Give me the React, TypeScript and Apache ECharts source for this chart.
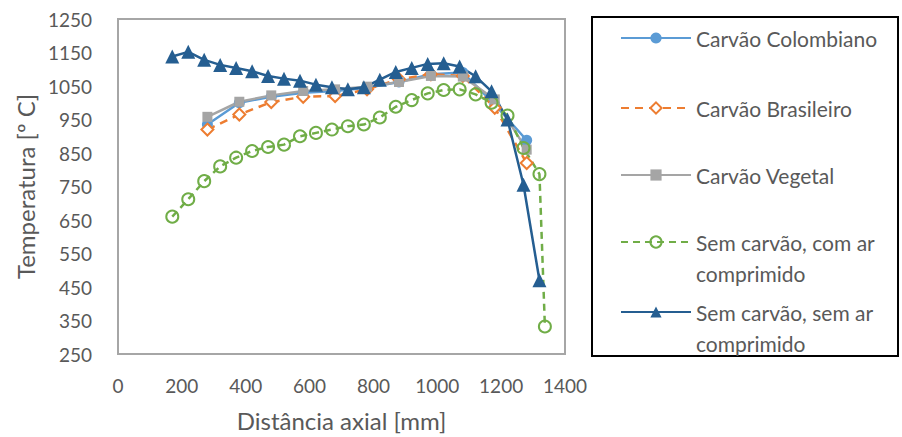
import React, { useEffect, useRef } from "react";
import * as echarts from "echarts";

// ---- Data ----
const xCoal = [280, 380, 480, 580, 680, 780, 880, 980, 1080, 1180, 1280];
const colombiano = [935, 1000, 1018, 1030, 1035, 1045, 1062, 1085, 1090, 995, 888];
const brasileiro = [920, 965, 1002, 1018, 1020, 1040, 1070, 1085, 1080, 985, 820];
const vegetal = [958, 1003, 1022, 1035, 1040, 1048, 1062, 1080, 1078, 1010, 860];

const xComAr = [170, 220, 270, 320, 370, 420, 470, 520, 570, 620, 670, 720, 770, 820, 870, 920, 970, 1020, 1070, 1120, 1170, 1220, 1270, 1320, 1337];
const semCarvaoComAr = [660, 712, 766, 810, 836, 856, 868, 875, 900, 910, 920, 930, 935, 956, 988, 1008, 1028, 1038, 1040, 1025, 1000, 962, 865, 787, 332];

const xSemAr = [170, 220, 270, 320, 370, 420, 470, 520, 570, 620, 670, 720, 770, 820, 870, 920, 970, 1020, 1070, 1120, 1170, 1220, 1270, 1320];
const semCarvaoSemAr = [1138, 1152, 1128, 1113, 1104, 1094, 1080, 1072, 1066, 1054, 1046, 1040, 1046, 1069, 1092, 1104, 1116, 1118, 1108, 1079, 1034, 950, 755, 470];

const seriesNames = [
  "Carvão Colombiano",
  "Carvão Brasileiro",
  "Carvão Vegetal",
  "Sem carvão, com ar comprimido",
  "Sem carvão, sem ar comprimido",
];
const legendLines = [
  ["Carvão Colombiano"],
  ["Carvão Brasileiro"],
  ["Carvão Vegetal"],
  ["Sem carvão, com ar", "comprimido"],
  ["Sem carvão, sem ar", "comprimido"],
];

const xTitle = "Distância axial [mm]";
const yTitle = "Temperatura [º C]";

const zip = (xs: number[], ys: number[]) => xs.map((x, i) => [x, ys[i]]);

const FONT = "Lato";
const TXT = "#595959";

export default function App() {
  const ref = useRef<HTMLDivElement>(null);
  useEffect(() => {
    if (!ref.current) return;
    const chart = echarts.init(ref.current, undefined, { renderer: "svg" });
    const legendCenters = [38, 108, 175, 242, 312];
    const legends = seriesNames.map((name, i) => {
      const twoLine = legendLines[i].length > 1;
      return {
        data: [name],
        left: 620,
        top: twoLine ? legendCenters[i] - 46.5 : legendCenters[i] - 15.5,
        padding: 0,
        itemWidth: 70,
        itemHeight: 14,
        selectedMode: false,
        // a leading blank line keeps the first text line level with the icon
        formatter: () => (twoLine ? " \n" : "") + legendLines[i].join("\n"),
        textStyle: {
          fontFamily: FONT,
          fontSize: 21,
          color: TXT,
          lineHeight: 31,
        },
      };
    });

    chart.setOption({
      animation: false,
      backgroundColor: "#fff",
      textStyle: { fontFamily: FONT },
      grid: {
        left: 118,
        right: 337,
        top: 19,
        bottom: 81,
        show: true,
        borderColor: "#A6A6A6",
        borderWidth: 2,
        containLabel: false,
      },
      legend: legends,
      graphic: [
        {
          type: "rect",
          shape: { x: 592, y: 17, width: 306, height: 339 },
          style: { fill: "none", stroke: "#000", lineWidth: 2 },
          silent: true,
        },
      ],
      xAxis: {
        type: "value",
        min: 0,
        max: 1400,
        interval: 200,
        name: xTitle,
        nameLocation: "middle",
        nameGap: 54,
        nameTextStyle: { fontFamily: FONT, fontSize: 24, color: TXT },
        axisLine: { show: false },
        axisTick: { show: false },
        splitLine: { show: false },
        axisLabel: {
          fontFamily: FONT,
          fontSize: 19,
          color: TXT,
          margin: 22,
          formatter: (v: number) => String(v),
        },
      },
      yAxis: {
        type: "value",
        min: 250,
        max: 1250,
        interval: 50,
        name: yTitle,
        nameLocation: "middle",
        nameGap: 81,
        nameTextStyle: { fontFamily: FONT, fontSize: 24, color: TXT },
        axisLine: { show: false },
        axisTick: { show: false },
        splitLine: { show: false },
        axisLabel: {
          fontFamily: FONT,
          fontSize: 19,
          color: TXT,
          margin: 26,
          formatter: (v: number) => ((v - 250) % 100 === 0 ? String(v) : ""),
        },
      },
      series: [
        {
          name: seriesNames[0],
          type: "line",
          data: zip(xCoal, colombiano),
          symbol: "circle",
          symbolSize: 11,
          itemStyle: { color: "#5B9BD5" },
          lineStyle: { color: "#5B9BD5", width: 2.5 },
        },
        {
          name: seriesNames[1],
          type: "line",
          data: zip(xCoal, brasileiro),
          symbol: "diamond",
          symbolSize: 12,
          itemStyle: { color: "#fff", borderColor: "#ED7D31", borderWidth: 2 },
          lineStyle: { color: "#ED7D31", width: 2.5, type: [8, 6] },
        },
        {
          name: seriesNames[2],
          type: "line",
          data: zip(xCoal, vegetal),
          symbol: "rect",
          symbolSize: 10,
          itemStyle: { color: "#A5A5A5" },
          lineStyle: { color: "#A5A5A5", width: 2.5 },
        },
        {
          name: seriesNames[3],
          type: "line",
          data: zip(xComAr, semCarvaoComAr),
          symbol: "circle",
          symbolSize: 12,
          itemStyle: { color: "rgba(255,255,255,0)", borderColor: "#70AD47", borderWidth: 2 },
          lineStyle: { color: "#70AD47", width: 2.5, type: [7, 5] },
        },
        {
          name: seriesNames[4],
          type: "line",
          data: zip(xSemAr, semCarvaoSemAr),
          symbol: "triangle",
          symbolSize: 14,
          itemStyle: { color: "#255E91" },
          lineStyle: { color: "#255E91", width: 2.5 },
        },
      ],
    });
    return () => chart.dispose();
  }, []);
  return (
    <div
      ref={ref}
      style={{ position: "fixed", left: 0, top: 0, width: 902, height: 437, background: "#fff" }}
    />
  );
}
